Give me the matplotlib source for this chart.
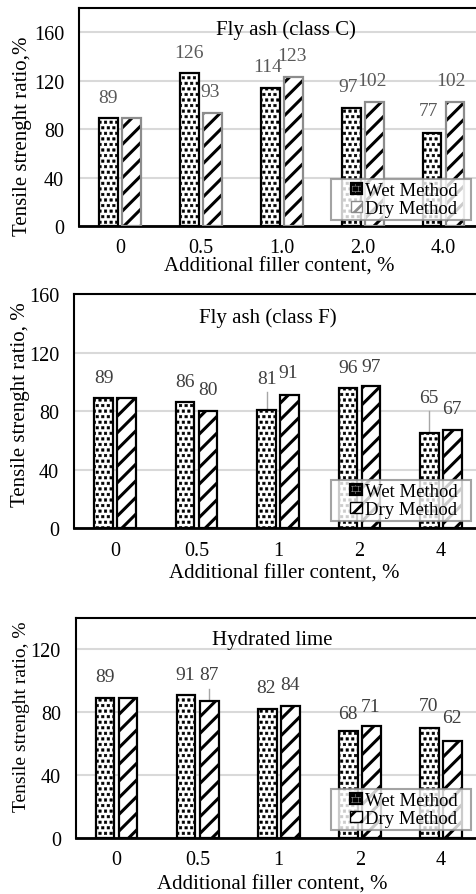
import numpy as np
import matplotlib
matplotlib.use("Agg")
import matplotlib.pyplot as plt
import matplotlib.hatch as mhatch
from matplotlib.path import Path
from matplotlib.patches import Rectangle
from matplotlib.container import BarContainer
from matplotlib.legend_handler import HandlerPatch, update_from_first_child

plt.rcParams['font.family'] = ['Liberation Serif', 'DejaVu Serif']
plt.rcParams['hatch.linewidth'] = 2.0


# trama de puntos cuadrados (como en Excel) en lugar de circulitos
class CuadritosRellenos(mhatch.Shapes):
    size = 0.22
    filled = True

    def __init__(self, hatch, density):
        self.num_rows = hatch.count('.') * density
        sq = Path.unit_rectangle()
        self.shape_vertices = sq.vertices * 2 - 1
        self.shape_codes = sq.codes
        super().__init__(hatch, density)


try:
    mhatch._hatch_types = [CuadritosRellenos if t is mhatch.SmallFilledCircles else t
                           for t in mhatch._hatch_types]
except AttributeError:
    pass

categorias_c = ["0", "0.5", "1.0", "2.0", "4.0"]
categorias = ["0", "0.5", "1", "2", "4"]

# valores de cada panel
wet_c = [89, 126, 114, 97, 77]
dry_c = [89, 93, 123, 102, 102]
wet_f = [89, 86, 81, 96, 65]
dry_f = [89, 80, 91, 97, 67]
wet_l = [89, 91, 82, 68, 70]
dry_l = [89, 87, 84, 71, 62]

# posicion de las etiquetas (desplazamiento x, altura y); None = sin etiqueta
lab_wet_c = [(-0.144, 106), (-0.148, 143), (-0.17, 132), (-0.18, 115), (-0.19, 95)]
lab_dry_c = [None, (0.12, 111), (0.12, 141), (0.12, 120), (0.095, 120)]
lab_wet_f = [(-0.135, 103), (-0.14, 100), (-0.14, 102), (-0.14, 109.5), (-0.147, 89)]
lab_dry_f = [None, (0.145, 95), (0.127, 106), (0.137, 110.6), (0.13, 81.6)]
lab_wet_l = [(-0.145, 103), (-0.157, 104), (-0.15, 95.5), (-0.14, 79.5), (-0.145, 84)]
lab_dry_l = [None, (0.139, 104), (0.139, 97.8), (0.139, 83.8), (0.136, 76.4)]

# lineas guia: (serie, indice)
guia_f = [("wet", 2), ("wet", 4)]
guia_l = [("dry", 1)]

paneles = [
    dict(pos=[0.167, 0.7464, 0.850, 0.2436], ymax=180, yticks=[0, 40, 80, 120, 160],
         wet=wet_c, dry=dry_c, lw_=lab_wet_c, ld_=lab_dry_c, guias=[], cats=categorias_c,
         titulo="Fly ash (class C)", tit_xy=(0.51, 0.905), ylabel="Tensile strenght ratio,%",
         ylab_xy=(-0.142, 0.417), ylab_fs=15, xlab_xy=(0.493, -0.183),
         leg=(0.9407, 0.0275), dry_edge="#8c8c8c", lab_color="#595959"),
    dict(pos=[0.156, 0.4089, 0.856, 0.2615], ymax=160, yticks=[0, 40, 80, 120, 160],
         wet=wet_f, dry=dry_f, lw_=lab_wet_f, ld_=lab_dry_f, guias=guia_f, cats=categorias,
         titulo="Fly ash (class F)", tit_xy=(0.475, 0.9), ylabel="Tensile strenght ratio, %",
         ylab_xy=(-0.133, 0.53), ylab_fs=15, xlab_xy=(0.515, -0.192),
         leg=(0.9466, 0.031), dry_edge="black", lab_color="#404040"),
    dict(pos=[0.160, 0.0626, 0.851, 0.2458], ymax=140, yticks=[0, 40, 80, 120],
         wet=wet_l, dry=dry_l, lw_=lab_wet_l, ld_=lab_dry_l, guias=guia_l, cats=categorias,
         titulo="Hydrated lime", tit_xy=(0.485, 0.9), ylabel="Tensile strenght ratio, %",
         ylab_xy=(-0.136, 0.555), ylab_fs=14, xlab_xy=(0.485, -0.209),
         leg=(0.9475, 0.038), dry_edge="black", lab_color="#404040"),
]


def cuadrito(legend, orig_handle, xdescent, ydescent, width, height, fontsize):
    s = height
    return Rectangle((-xdescent + width - s, -ydescent), s, s)


def caja_ancha(x0, y0, width, height, mutation_size):
    # marco de leyenda con relleno solo a los lados
    pl = 0.9 * mutation_size
    pr = 0.6 * mutation_size
    return Path([(x0 - pl, y0), (x0 + width + pr, y0), (x0 + width + pr, y0 + height),
                 (x0 - pl, y0 + height), (x0 - pl, y0)], closed=True)


fig = plt.figure(figsize=(4.76, 8.95), dpi=100)

ancho = 0.23
off = 0.142

for p in paneles:
    ax = fig.add_axes(p["pos"])
    x = np.arange(len(p["wet"]))
    bw = ax.bar(x - off, p["wet"], ancho, color="white", edgecolor="black", hatch="...",
                linewidth=1.6, label="Wet Method", zorder=3)
    bd = ax.bar(x + off, p["dry"], ancho, color="white", edgecolor="black", hatch="//",
                linewidth=0, zorder=3)
    ax.bar(x + off, p["dry"], ancho, fill=False, edgecolor=p["dry_edge"],
           linewidth=1.6, zorder=4)
    # entrada de leyenda para Dry Method
    ax.bar([0], [0], 0, color="white", edgecolor=p["dry_edge"], hatch="//",
           linewidth=1, label="Dry Method")
    if hasattr(bw[0], "set_hatch_linewidth"):
        for r in bw:
            r.set_hatch_linewidth(0.4)
        for r in bd:
            r.set_hatch_linewidth(2.2)

    for serie, vals, labs in [("wet", p["wet"], p["lw_"]), ("dry", p["dry"], p["ld_"])]:
        for i, (v, l) in enumerate(zip(vals, labs)):
            if l is None:
                continue
            ax.text(i + l[0], l[1], str(v), ha="center", va="center", fontsize=14,
                    color=p["lab_color"], zorder=5)
            if (serie, i) in p["guias"]:
                ax.plot([i + l[0], i + l[0]], [l[1] - 9, v], color="#a6a6a6", lw=1, zorder=2)

    ax.set_xlim(-0.5, 4.5)
    ax.set_ylim(0, p["ymax"])
    ax.set_yticks(p["yticks"])
    ax.set_xticks(x)
    ax.set_xticklabels(p["cats"])
    ax.tick_params(length=0, labelsize=14.5)
    ax.tick_params(axis="x", pad=9)
    ax.tick_params(axis="y", pad=11)
    ax.grid(axis="y", color="#d9d9d9", linewidth=1.5, zorder=0)
    ax.set_axisbelow(True)
    for s in ax.spines.values():
        s.set_linewidth(1.5)
        s.set_color("black")
    ax.spines["bottom"].set_linewidth(2)

    ax.text(p["tit_xy"][0], p["tit_xy"][1], p["titulo"], transform=ax.transAxes,
            ha="center", va="center", fontsize=15)
    ax.set_ylabel(p["ylabel"], fontsize=p["ylab_fs"])
    ax.yaxis.set_label_coords(*p["ylab_xy"])
    ax.yaxis.label.set_verticalalignment("center")
    ax.set_xlabel("Additional filler content, %", fontsize=15)
    ax.xaxis.set_label_coords(*p["xlab_xy"])
    ax.xaxis.label.set_verticalalignment("center")

    leg = ax.legend(loc="lower right", bbox_to_anchor=p["leg"], fontsize=13.5,
                    frameon=True, fancybox=False, handlelength=0.6, handleheight=0.55,
                    handletextpad=0.15, borderpad=0.15, labelspacing=0.05, borderaxespad=0,
                    handler_map={BarContainer: HandlerPatch(patch_func=cuadrito,
                                                            update_func=update_from_first_child)})
    leg.get_frame().set_boxstyle(caja_ancha)
    leg.get_frame().set_edgecolor("#8c8c8c")
    leg.get_frame().set_linewidth(1.5)
    leg.set_zorder(6)

plt.savefig("out.png", dpi=100)
